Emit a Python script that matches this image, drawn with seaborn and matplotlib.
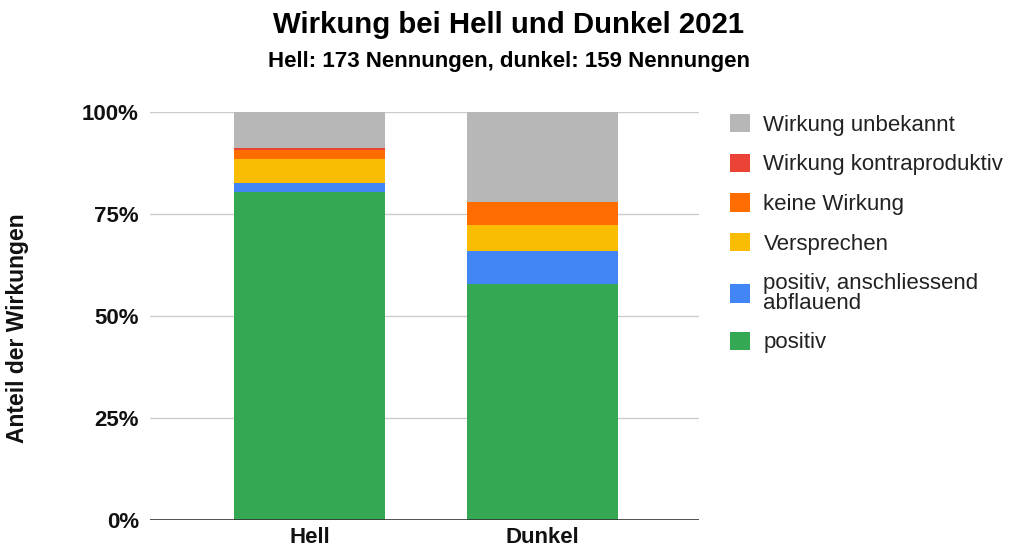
import numpy as np
import pandas as pd
import matplotlib
matplotlib.use("Agg")
import matplotlib.pyplot as plt
from matplotlib.patches import Patch
import seaborn as sns

# Nennungen je Kategorie (von unten nach oben gestapelt)
groups = ["Hell", "Dunkel"]
categories = ["positiv", "positiv, anschliessend\nabflauend", "Versprechen",
              "keine Wirkung", "Wirkung kontraproduktiv", "Wirkung unbekannt"]
hell_counts = [139, 4, 10, 4, 1, 15]
dunkel_counts = [92, 13, 10, 9, 0, 35]
colors = ["#34a853", "#4285f4", "#fbbc04", "#ff6d01", "#ea4335", "#b7b7b7"]
yticks = [0, 25, 50, 75, 100]

sns.set_theme(style="white")
plt.rcParams["font.family"] = ["Liberation Sans", "DejaVu Sans"]

counts = np.array([hell_counts, dunkel_counts], dtype=float)
shares = counts / counts.sum(axis=1, keepdims=True) * 100
cum = np.cumsum(shares, axis=1)

fig = plt.figure(figsize=(10.14, 5.53), dpi=100)
ax = fig.add_axes([150 / 1014, 33 / 553, 549 / 1014, 407.7 / 553])

# Stapel: höchste kumulierte Schicht zuerst, darüber die tieferen
for k in range(len(categories) - 1, -1, -1):
    df = pd.DataFrame({"Gruppe": groups, "Wert": cum[:, k]})
    sns.barplot(data=df, x="Gruppe", y="Wert", color=colors[k], width=0.65,
                saturation=1, linewidth=0, edgecolor="none", ax=ax, zorder=3)

ax.set_xlim(-0.6845, 1.672)
ax.set_ylim(0, 100)
ax.set_yticks(yticks)
ax.set_yticklabels([f"{v}%" for v in yticks], fontsize=16, fontweight="bold")
for lbl in ax.get_xticklabels():
    lbl.set_fontsize(16)
    lbl.set_fontweight("bold")
ax.tick_params(axis="y", length=0, pad=8, colors="#111111")
ax.tick_params(axis="x", length=0, pad=5, colors="#111111")
ax.set_xlabel("")
ax.set_ylabel("")
for s in ["top", "right", "left", "bottom"]:
    ax.spines[s].set_visible(False)
for v in yticks[1:]:
    ax.axhline(v, color="#cccccc", lw=1, zorder=1)
ax.axhline(0, color="#333333", lw=1.2, zorder=4)

fig.text(18 / 1014, 1 - 328 / 553, "Anteil der Wirkungen", rotation=90,
         ha="center", va="center", fontsize=16.5, fontweight="bold",
         color="#111111")
fig.text(0.502, 0.94, "Wirkung bei Hell und Dunkel 2021", ha="center",
         va="baseline", fontsize=21.2, fontweight="bold", color="#000000")
fig.text(0.502, 0.878, "Hell: 173 Nennungen, dunkel: 159 Nennungen",
         ha="center", va="baseline", fontsize=16, fontweight="bold",
         color="#000000")

handles = [Patch(facecolor=colors[k], edgecolor="none")
           for k in range(len(categories) - 1, -1, -1)]
labels = categories[::-1]
leg = fig.legend(handles, labels, loc="upper left",
                 bbox_to_anchor=(0.72, 0.794), frameon=False, fontsize=16,
                 handlelength=0.9, handleheight=0.9, handletextpad=0.6,
                 labelspacing=0.8, borderpad=0, borderaxespad=0,
                 labelcolor="#222222")
for t in leg.get_texts():
    t.set_linespacing(0.95)

fig.savefig("out.png", dpi=100)
